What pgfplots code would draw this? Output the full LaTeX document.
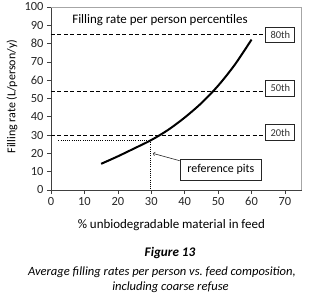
\documentclass[border=0pt]{standalone}
\usepackage{fontspec}
\setmainfont{Carlito}
\usepackage{pgfplots}
\pgfplotsset{compat=1.18}
\begin{document}
\begin{tikzpicture}
\useasboundingbox (-51bp,-103bp) rectangle (269bp,190bp);
\begin{axis}[
  scale only axis, width=250.7bp, height=183bp,
  xmin=0, xmax=75, ymin=0, ymax=100,
  xtick={0,10,...,70}, ytick={0,10,...,100},
  axis x line*=bottom, axis y line*=left,
  axis line style={black!75, line width=0.7pt},
  tick align=outside, major tick length=4bp,
  tick style={black!75, line width=0.7pt},
  /pgf/number format/assume math mode=true,
  tick label style={font=\fontsize{12.5}{14}\selectfont, text=black!85},
  xlabel={\% unbiodegradable material in feed},
  ylabel={Filling rate (L/person/y)},
  xlabel style={font=\fontsize{13}{15}\selectfont, at={(axis cs:36,0)}, anchor=center, yshift=-35bp},
  ylabel style={font=\fontsize{12}{14}\selectfont, at={(axis description cs:-0.155,0.51)}, anchor=center},
  clip=false,
]
\draw[gray!70, line width=0.7pt] (rel axis cs:0,1) -- (rel axis cs:1,1) -- (rel axis cs:1,0);
% percentile lines
\addplot[black, line width=1.2pt, dash pattern=on 4bp off 2.5bp] coordinates {(0,85) (63.6,85)};
\addplot[black, line width=1.2pt, dash pattern=on 4bp off 2.5bp] coordinates {(0,54) (63.6,54)};
\addplot[black, line width=1.2pt, dash pattern=on 4bp off 2.5bp] coordinates {(0,30) (63.6,30)};
% reference dotted
\addplot[black, line width=0.9pt, dash pattern=on 1bp off 1.2bp] coordinates {(2.2,27.2) (29.9,27.2) (29.9,0)};
% curve
\addplot[black, line width=2pt, smooth] coordinates {
(15,14.3) (20,18.4) (25,22.8) (30,27.3) (35,32.8) (40,39.6) (45,47.5) (50,57) (55,68.5) (60,82.2)};
% labels
\node[font=\fontsize{13}{15}\selectfont] at (axis cs:32.6,92.6) {Filling rate per person percentiles};
\node[draw=black!85, line width=0.8pt, fill=white, font=\fontsize{10.5}{12}\selectfont, text=black!80, minimum width=29bp, minimum height=15bp, inner sep=1bp] at (axis cs:68.6,84.6) {80th};
\node[draw=black!85, line width=0.8pt, fill=white, font=\fontsize{10.5}{12}\selectfont, text=black!80, minimum width=29bp, minimum height=16.5bp, inner sep=1bp] at (axis cs:68.6,55.6) {50th};
\node[draw=black!85, line width=0.8pt, fill=white, font=\fontsize{10.5}{12}\selectfont, text=black!80, minimum width=29bp, minimum height=16.5bp, inner sep=1bp] at (axis cs:68.6,31.4) {20th};
\node[draw=black!85, line width=0.8pt, fill=white, font=\fontsize{12}{14}\selectfont, minimum width=80.7bp, minimum height=20.7bp, inner sep=1bp] at (axis cs:50.8,11.1) {reference pits};
\draw[->, black!85, line width=0.6pt] (axis cs:38.5,16.0) -- (axis cs:30.5,20);
\end{axis}
\node[font=\fontsize{13.2}{15}\bfseries\itshape\selectfont] at (119bp,-63bp) {Figure 13};
\node[font=\fontsize{12.6}{15}\itshape\selectfont] at (111bp,-82bp) {Average filling rates per person vs.~feed composition,};
\node[font=\fontsize{12.6}{15}\itshape\selectfont] at (119.5bp,-97bp) {including coarse refuse};
\end{tikzpicture}
\end{document}
